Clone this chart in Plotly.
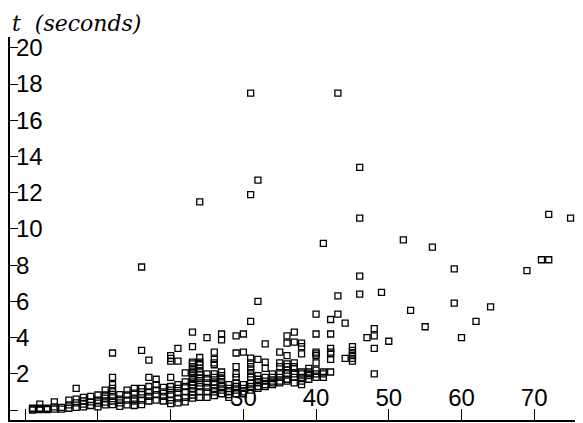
import plotly.graph_objects as go

# problem size (x) and the run times (y, seconds) observed at each size
sizes = [1, 2, 3, 4, 5, 6, 7, 8, 9, 10,
         11, 12, 13, 14, 15, 16, 17, 18, 19, 20,
         21, 22, 23, 24, 25, 26, 27, 28, 29, 30,
         31, 32, 33, 34, 35, 36, 37, 38, 39, 40,
         41, 42, 43, 44, 45, 46, 47, 48, 49, 50,
         52, 53, 55, 56, 59, 60, 62, 64, 69, 71, 72, 75]
times = [
    [0.0, 0.05, 0.1],
    [0.33, 0.1, 0.02],
    [0.1, 0.03],
    [0.45, 0.17, 0.05],
    [0.15, 0.05],
    [0.55, 0.28, 0.1],
    [1.2, 0.6, 0.4, 0.15],
    [0.7, 0.5, 0.33, 0.17],
    [0.75, 0.45, 0.25],
    [0.83, 0.55, 0.38, 0.17],
    [1.1, 0.83, 0.66, 0.44, 0.28],
    [3.15, 1.8, 1.4, 1.2, 1.0, 0.75, 0.5, 0.3],
    [0.85, 0.6, 0.4, 0.2],
    [1.1, 0.83, 0.55, 0.28],
    [1.2, 0.93, 0.66, 0.5, 0.25],
    [7.9, 3.3, 1.2, 1.0, 0.85, 0.55, 0.3],
    [2.76, 1.8, 1.3, 1.0, 0.75, 0.5],
    [1.7, 1.4, 1.1, 0.85, 0.55],
    [1.25, 1.0, 0.75, 0.5],
    [3.0, 2.85, 2.7, 1.8, 1.3, 1.1, 0.85, 0.55, 0.35],
    [3.4, 2.7, 1.4, 1.2, 0.95, 0.66, 0.4],
    [2.05, 1.55, 1.3, 1.0, 0.7, 0.45],
    [4.3, 3.5, 2.65, 2.55, 2.4, 2.25, 2.1, 2.0, 1.8, 1.7, 1.55, 1.4, 1.2, 1.0, 0.83, 0.66],
    [11.5, 2.9, 2.65, 2.5, 2.3, 2.1, 1.95, 1.75, 1.5, 1.3, 1.0, 0.7],
    [4.0, 2.0, 1.75, 1.5, 1.25, 1.0, 0.7],
    [3.2, 2.8, 2.6, 2.5, 2.0, 1.8, 1.55, 1.4, 1.2, 1.0, 0.8],
    [4.2, 3.87, 2.1, 1.9, 1.7, 1.5, 1.3, 1.1, 0.9],
    [1.4, 1.2, 1.0, 0.85, 0.7],
    [4.1, 3.15, 2.4, 2.0, 1.8, 1.5, 1.3, 1.1, 0.9],
    [4.2, 3.2, 1.4, 1.2, 1.0, 0.9],
    [17.5, 11.9, 4.9, 2.87, 2.6, 2.4, 2.2, 2.0, 1.8, 1.5, 1.3, 1.1],
    [12.7, 6.0, 2.8, 1.9, 1.7, 1.5, 1.3, 1.2],
    [3.65, 2.65, 2.3, 1.8, 1.6, 1.4, 1.3],
    [2.0, 1.8, 1.6, 1.5, 1.4],
    [3.2, 2.6, 2.4, 2.0, 1.8, 1.6, 1.5],
    [4.1, 3.7, 3.0, 2.55, 2.4, 2.2, 2.0, 1.7, 1.6],
    [4.3, 3.75, 2.6, 2.4, 2.3, 2.0, 1.8, 1.5],
    [3.7, 3.5, 3.1, 2.1, 2.0, 1.8, 1.6, 1.4],
    [2.3, 2.1, 2.0, 1.9, 1.7],
    [5.3, 4.2, 3.2, 3.1, 3.0, 2.6, 2.2, 2.0, 1.8],
    [9.2, 2.1, 2.0, 1.8],
    [5.0, 4.2, 3.4, 3.2, 3.1, 2.8, 2.1],
    [17.5, 6.3, 5.3],
    [4.8, 2.85],
    [3.5, 3.3, 3.1, 3.0, 2.85, 2.7],
    [13.4, 10.6, 7.4, 6.4],
    [4.0],
    [4.5, 4.1, 3.4, 2.0],
    [6.5],
    [3.8],
    [9.4],
    [5.5],
    [4.6],
    [9.0],
    [7.8, 5.9],
    [4.0],
    [4.9],
    [5.7],
    [7.7],
    [8.3],
    [10.8, 8.3],
    [10.6],
]

x_ticks = [0, 10, 20, 30, 40, 50, 60, 70]
x_tick_labels = ["", "", "", "30", "40", "50", "60", "70"]
y_ticks = [0, 2, 4, 6, 8, 10, 12, 14, 16, 18, 20]
y_tick_labels = ["", "2", "4", "6", "8", "10", "12", "14", "16", "18", "20"]

xs, ys = [], []
for s, col in zip(sizes, times):
    for t in col:
        xs.append(s)
        ys.append(t)

fig = go.Figure()
fig.add_trace(go.Scatter(
    x=xs, y=ys, mode="markers",
    marker=dict(symbol="square-open", size=6, color="black", line=dict(width=1.3, color="black")),
    showlegend=False, cliponaxis=False,
))

tick_font = dict(family="Liberation Sans, Arial, sans-serif", size=24, color="black")

fig.update_layout(
    width=575, height=415,
    margin=dict(l=2, r=3, t=29, b=3),
    paper_bgcolor="white", plot_bgcolor="white",
    font=dict(family="Liberation Sans, Arial, sans-serif", size=24, color="black"),
    xaxis=dict(
        range=[-2.1, 76.3], tickvals=x_ticks, ticktext=x_tick_labels, tickfont=tick_font,
        ticks="inside", ticklen=11, tickwidth=1.2, tickcolor="black",
        ticklabelposition="inside", ticklabeloverflow="allow", automargin=False,
        showgrid=False, zeroline=False,
        showline=True, linecolor="black", linewidth=1.5,
    ),
    yaxis=dict(
        range=[-0.55, 20.6], tickvals=y_ticks, ticktext=y_tick_labels, tickfont=tick_font,
        ticks="inside", ticklen=8, tickwidth=1.2, tickcolor="black",
        ticklabelposition="inside", ticklabeloverflow="allow", automargin=False,
        showgrid=False, zeroline=False,
        showline=True, linecolor="black", linewidth=1.5,
    ),
    annotations=[dict(
        text="<i>t  (seconds)</i>", xref="paper", yref="paper",
        x=0, y=1, xshift=1, yshift=0, xanchor="left", yanchor="bottom", showarrow=False,
        borderpad=0, font=dict(family="DejaVu Serif", size=22, color="black"),
    )],
)

fig.write_html("out.html")
